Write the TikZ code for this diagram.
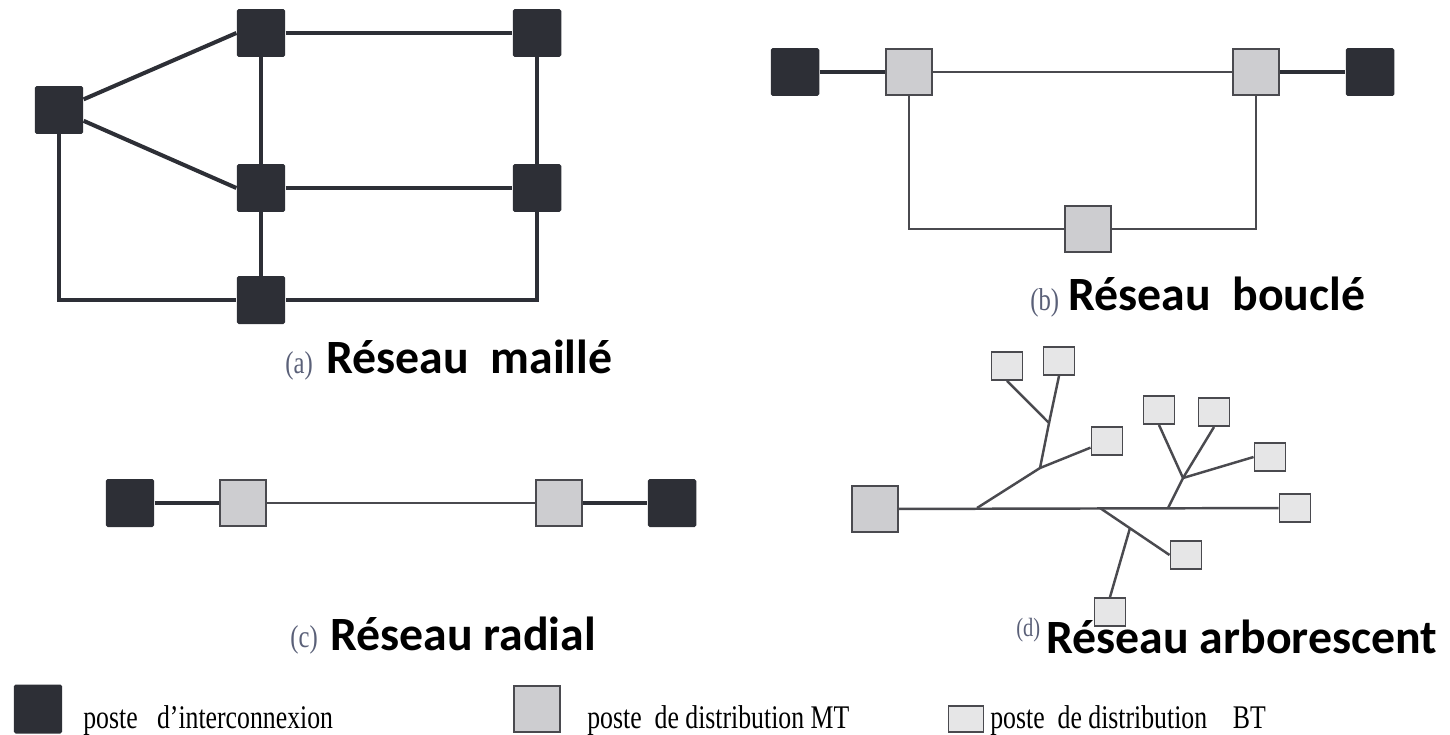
\documentclass[tikz,border=0pt]{standalone}
\usepackage{fontspec}
\usepackage{graphicx}
\usepackage{tikz}
\usepackage{xcolor}
\setmainfont{Liberation Serif}
\newfontfamily\labfont{Carlito}

\definecolor{interfill}{HTML}{2D2F36}
\definecolor{mtfill}{HTML}{CDCDD0}
\definecolor{btfill}{HTML}{E6E6E7}
\definecolor{boxedge}{HTML}{4A4A4F}
\definecolor{tagcol}{HTML}{5A6078}

\newcommand{\legtext}[1]{\scalebox{0.78}[1]{#1}}

\tikzset{
  interbox/.style={draw=none, fill=interfill, rounded corners=1pt,
    minimum width=0.97cm, minimum height=0.96cm, inner sep=0pt},
  mtbox/.style={draw=boxedge, line width=1.3pt, fill=mtfill,
    minimum width=0.92cm, minimum height=0.92cm, inner sep=0pt},
  btbox/.style={draw=boxedge, line width=1.1pt, fill=btfill,
    minimum width=0.62cm, minimum height=0.56cm, inner sep=0pt},
  heavy/.style={line width=2.3pt, draw=interfill},
  feeder/.style={line width=1.1pt, draw=boxedge},
  branch/.style={line width=1.4pt, draw=boxedge},
  title/.style={font=\labfont\bfseries\fontsize{27.2}{31}\selectfont,
    anchor=base west, inner sep=0pt},
  tag/.style={font=\fontsize{18}{20}\selectfont, text=tagcol,
    anchor=base west, inner sep=0pt},
  legend/.style={font=\fontsize{18.8}{22}\selectfont,
    anchor=base west, inner sep=0pt},
}

\begin{document}
\begin{tikzpicture}[x=0.02cm, y=-0.02cm]
  \useasboundingbox (0,0) rectangle (1450,734);

  % --- (a) meshed network ---
  \node[interbox] (L)  at ( 59,110) {};
  \node[interbox] (TM) at (261, 33) {};
  \node[interbox] (TR) at (537, 33) {};
  \node[interbox] (M)  at (261,188) {};
  \node[interbox] (MR) at (537,188) {};
  \node[interbox] (B)  at (261,300) {};
  \draw[heavy] (L) -- (TM.west);
  \draw[heavy] (L) -- (M.west);
  \draw[heavy] (TM) -- (TR);
  \draw[heavy] (M) -- (MR);
  \draw[heavy] (TM) -- (M);
  \draw[heavy] (M) -- (B);
  \draw[heavy] (TR) -- (MR);
  \draw[heavy] (L) |- (B);
  \draw[heavy] (MR) |- (B);
  \node[tag]   (tagA)   at (285,373) {\legtext{(a)}};
  \node[title] (titleA) at (326,373) {Réseau\ \ maillé};

  % --- (b) loop network ---
  \node[interbox] (bD1) at ( 795, 72) {};
  \node[mtbox]    (bG1) at ( 909, 72) {};
  \node[mtbox]    (bG2) at (1256, 72) {};
  \node[interbox] (bD2) at (1370, 72) {};
  \node[mtbox]    (bG3) at (1088,229) {};
  \draw[heavy]  (bD1) -- (bG1);
  \draw[feeder] (bG1) -- (bG2);
  \draw[heavy]  (bG2) -- (bD2);
  \draw[feeder] (bG1) |- (bG3);
  \draw[feeder] (bG2) |- (bG3);
  \node[tag]   (tagB)   at (1030,310) {\legtext{(b)}};
  \node[title] (titleB) at (1068,310) {Réseau\ \ bouclé};

  % --- (c) radial network ---
  \node[interbox] (cD1) at (130,503) {};
  \node[mtbox]    (cG1) at (243,503) {};
  \node[mtbox]    (cG2) at (559,503) {};
  \node[interbox] (cD2) at (672,503) {};
  \draw[heavy]  (cD1) -- (cG1);
  \draw[feeder] (cG1) -- (cG2);
  \draw[heavy]  (cG2) -- (cD2);
  \node[tag]   (tagC)   at (290,647) {\legtext{(c)}};
  \node[title] (titleC) at (330,650) {Réseau radial};

  % --- (d) tree network: one MT head, BT leaves ---
  \node[mtbox] (dA) at (875,509) {};
  \node[btbox] (d1) at (1107,441) {};
  \node[btbox] (d2) at (1007,366) {};
  \node[btbox] (d3) at (1059,361) {};
  \node[btbox] (d4) at (1159,410) {};
  \node[btbox] (d5) at (1214,412) {};
  \node[btbox] (d6) at (1270,457) {};
  \node[btbox] (d7) at (1186,555) {};
  \node[btbox] (d8) at (1110,612) {};
  \node[btbox] (d9) at (1295,508) {};
  % junctions
  \coordinate (ja) at ( 977,508);
  \coordinate (j1) at (1040,468);
  \coordinate (j2) at (1049,423);
  \coordinate (jb) at (1168,508);
  \coordinate (j3) at (1183,478);
  \coordinate (jc) at (1100,508);
  \coordinate (j4) at (1130,528);
  \draw[branch] (dA) -- (d9);
  \draw[branch] (ja) -- (j1) -- (d1);
  \draw[branch] (j1) -- (j2) -- (d2.south);
  \draw[branch] (j2) -- (d3.south);
  \draw[branch] (jb) -- (j3) -- (d4.south);
  \draw[branch] (j3) -- (d5.south);
  \draw[branch] (j3) -- (d6.west);
  \draw[branch] (jc) -- (d7.west);
  \draw[branch] (j4) -- (d8.north);
  \node[tag, font=\fontsize{15}{16}\selectfont] (tagD) at (1016,636) {\legtext{(d)}};
  \node[title] (titleD) at (1046,653) {Réseau arborescent};

  % --- legend ---
  \node[interbox, minimum height=0.98cm] (keyI) at (38,709) {};
  \node[legend] (txtI) at (83,728) {\legtext{poste\ \ \ d'interconnexion}};
  \node[mtbox] (keyM) at (537,709) {};
  \node[legend] (txtM) at (587,728) {\legtext{poste\ \ de distribution MT}};
  \node[btbox, minimum width=0.7cm, minimum height=0.52cm] (keyB) at (966,719) {};
  \node[legend] (txtB) at (990,728) {\legtext{poste\ \ de distribution\ \ \ \ BT}};
\end{tikzpicture}
\end{document}
